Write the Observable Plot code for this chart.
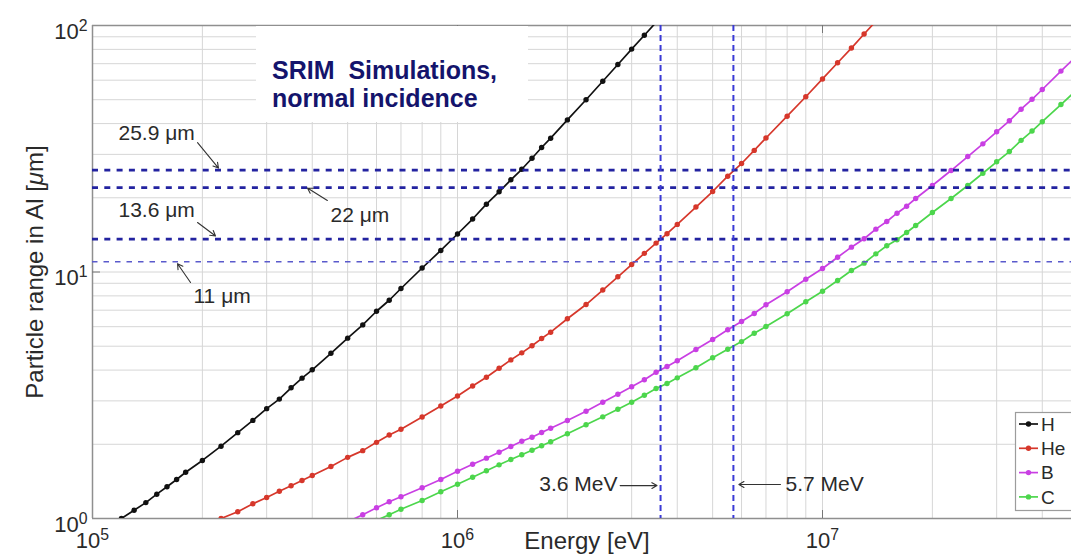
<!DOCTYPE html>
<html>
<head>
<meta charset="utf-8">
<script src="https://cdn.jsdelivr.net/npm/d3@7"></script>
<script src="https://cdn.jsdelivr.net/npm/@observablehq/plot@0.6"></script>
<style>
  html, body { margin: 0; padding: 0; background: #fff; overflow: hidden; }
  #chart { width: 1071px; height: 554px; }
</style>
</head>
<body>
<div id="chart"></div>
<script>
// SRIM projected ranges of light ions in aluminium (energy in keV, range in µm)
const ions = ["H", "He", "B", "C"];
const ionColors = ["#111111", "#d6372b", "#c93fe3", "#4cd64c"];

const energyH = [120,130,140,150,160,170,180,200,225,250,275,300,325,350,375,400,450,500,550,600,650,700,800,900,1000,1100,1200,1300,1400,1500,1600,1700,1800,2000,2250,2500,2750,3000,3250,3500];
const rangeH  = [1.00,1.08,1.16,1.255,1.345,1.44,1.54,1.72,1.965,2.23,2.50,2.79,3.05,3.39,3.71,4.01,4.68,5.39,6.10,6.93,7.68,8.57,10.38,12.23,14.26,16.4,18.84,21.15,23.66,26.1,28.95,32.0,34.9,41.4,50.0,59.4,69.5,80.2,91.3,103];

const energyHe = [225,250,275,300,325,350,375,400,450,500,550,600,650,700,800,900,1000,1100,1200,1300,1400,1500,1600,1700,1800,2000,2250,2500,2750,3000,3250,3500,3750,4000,4500,5000,5500,6000,6500,7000,8000,9000,10000,11000,12000,13000,14000];
const rangeHe  = [1.00,1.065,1.147,1.217,1.29,1.357,1.426,1.494,1.625,1.77,1.885,2.037,2.18,2.303,2.58,2.86,3.14,3.45,3.74,4.07,4.40,4.70,5.02,5.37,5.70,6.46,7.38,8.45,9.56,10.72,11.9,13.1,14.3,15.6,18.34,21.21,24.47,27.55,31.14,34.97,42.86,51.4,60.7,70.6,81.0,92.4,104];

const energyB = [500,550,600,650,700,800,900,1000,1100,1200,1300,1400,1500,1600,1700,1800,2000,2250,2500,2750,3000,3250,3500,3750,4000,4500,5000,5500,6000,6500,7000,8000,9000,10000,11000,12000,13000,14000,15000,16000,17000,18000,20000,22500,25000,27500,30000,32500,35000,37500,40000,45000,50000];
const rangeB  = [0.97,1.035,1.105,1.169,1.225,1.332,1.439,1.555,1.661,1.757,1.858,1.96,2.058,2.137,2.234,2.325,2.498,2.725,2.964,3.194,3.422,3.654,3.922,4.137,4.363,4.85,5.32,5.83,6.30,6.79,7.36,8.31,9.35,10.33,11.48,12.61,13.64,14.92,16.03,17.32,18.49,19.87,22.44,25.8,29.4,33.1,37.06,41.06,45.76,50.2,55.0,65.3,76.0];

const energyC = [600,650,700,800,900,1000,1100,1200,1300,1400,1500,1600,1700,1800,2000,2250,2500,2750,3000,3250,3500,3750,4000,4500,5000,5500,6000,6500,7000,8000,9000,10000,11000,12000,13000,14000,15000,16000,17000,18000,20000,22500,25000,27500,30000,32500,35000,37500,40000,45000,50000];
const rangeC  = [0.983,1.035,1.091,1.183,1.283,1.378,1.471,1.562,1.651,1.735,1.813,1.893,1.972,2.047,2.207,2.399,2.585,2.776,2.964,3.164,3.368,3.53,3.72,4.087,4.487,4.863,5.22,5.64,6.01,6.77,7.57,8.36,9.24,10.14,10.86,11.85,12.78,13.51,14.46,15.44,17.43,19.87,22.44,25.16,27.99,30.8,34.2,37.3,40.7,47.8,55.2];

// reference thicknesses (µm) and energies (MeV) marked with dashed lines
const rangeLinesMajor = [25.9, 22, 13.6];
const rangeLinesMinor = [11];
const energyLinesMeV = [3.6, 5.7];

// axis tick labels
const xTickValues = [1e5, 1e6, 1e7];
const yTickValues = [1, 10, 100];

// ---------------------------------------------------------------------------
const series = [
  ["H", energyH, rangeH],
  ["He", energyHe, rangeHe],
  ["B", energyB, rangeB],
  ["C", energyC, rangeC]
];
const rows = series.flatMap(([ion, es, rs]) =>
  es.map((e, i) => ({ion, energy: e * 1e3, range: rs[i]})));

const xDomain = [1e5, 4.81e7];
const yDomain = [1, 100];

// log grid: 1..9 within each decade
const xGrid = [1e5, 1e6, 1e7].flatMap(d => d3.range(1, 10).map(k => d * k)).filter(v => v <= xDomain[1]);
const yGrid = [1, 10].flatMap(d => d3.range(1, 10).map(k => d * k)).concat([100]);

// inward tick length expressed along each log axis
const frameH = 554 - 25 - 36, frameW = 1071 - 92;
const yTickFactor = Math.pow(yDomain[1] / yDomain[0], 8 / frameH);
const xTickFactor = Math.pow(xDomain[1] / xDomain[0], 8 / frameW);

// annotation callouts (label placement and arrow, in axis units)
const callouts = [
  {label: "25.9 μm", anchor: "start", tx: 1.178e5, ty: 36.6, ax1: 1.94e5, ay1: 33.5, ax2: 2.214e5, ay2: 26.4},
  {label: "22 μm",   anchor: "start", tx: 4.49e5,  ty: 16.95, ax1: 4.40e5, ay1: 19.5, ax2: 3.88e5, ay2: 21.9},
  {label: "13.6 μm", anchor: "start", tx: 1.178e5, ty: 17.77, ax1: 1.94e5, ay1: 15.88, ax2: 2.173e5, ay2: 14.0},
  {label: "11 μm",   anchor: "start", tx: 1.891e5, ty: 7.99, ax1: 1.856e5, ay1: 9.07, ax2: 1.71e5, ay2: 10.8},
  {label: "3.6 MeV", anchor: "end",   tx: 2.744e6, ty: 1.374, ax1: 2.79e6, ay1: 1.36, ax2: 3.52e6, ay2: 1.36},
  {label: "5.7 MeV", anchor: "start", tx: 7.92e6,  ty: 1.374, ax1: 7.67e6, ay1: 1.374, ax2: 5.9e6, ay2: 1.374}
];

const font = "'Liberation Sans', Arial, Helvetica, sans-serif";
const textColor = "#2a2a2a";
const frameColor = "#8f8f8f";

const plot = Plot.plot({
  width: 1071,
  height: 554,
  marginLeft: 92,
  marginRight: 0,
  marginTop: 25,
  marginBottom: 36,
  style: {fontFamily: font, background: "white", overflow: "hidden"},
  x: {type: "log", domain: xDomain},
  y: {type: "log", domain: yDomain},
  color: {domain: ions, range: ionColors},
  marks: [
    Plot.gridX(xGrid, {stroke: "#d6d6d6", strokeOpacity: 1, strokeWidth: 1}),
    Plot.gridY(yGrid, {stroke: "#d6d6d6", strokeOpacity: 1, strokeWidth: 1}),

    // frame (top, left, bottom)
    Plot.ruleY([yDomain[1]], {stroke: frameColor, strokeWidth: 1.5}),
    Plot.ruleY([yDomain[0]], {stroke: frameColor, strokeWidth: 1.5}),
    Plot.ruleX([xDomain[0]], {stroke: frameColor, strokeWidth: 1.5}),

    // inward major ticks
    Plot.ruleX(xTickValues.slice(1), {y1: yDomain[0], y2: yDomain[0] * yTickFactor, stroke: "#777"}),
    Plot.ruleX(xTickValues.slice(1), {y1: yDomain[1], y2: yDomain[1] / yTickFactor, stroke: "#777"}),
    Plot.ruleY(yTickValues.slice(1, 2), {x1: xDomain[0], x2: xDomain[0] * xTickFactor, stroke: "#777"}),

    // range curves
    Plot.line(rows, {x: "energy", y: "range", z: "ion", stroke: "ion", strokeWidth: 1.7, clip: true}),
    Plot.dot(rows, {x: "energy", y: "range", fill: "ion", r: 2.7, clip: true}),

    // reference lines
    Plot.ruleY(rangeLinesMajor, {stroke: "#2323a0", strokeWidth: 2.6, strokeDasharray: "6,6.3"}),
    Plot.ruleY(rangeLinesMinor, {stroke: "#5a5acc", strokeWidth: 1.5, strokeDasharray: "5.5,6"}),
    Plot.ruleX(energyLinesMeV.map(e => e * 1e6), {stroke: "#3a3ad6", strokeWidth: 2, strokeDasharray: "6,4"}),

    // callouts
    Plot.arrow(callouts, {x1: "ax1", y1: "ay1", x2: "ax2", y2: "ay2", stroke: "#333", strokeWidth: 1.1, headLength: 8}),
    Plot.text(callouts, {filter: d => d.anchor === "start", x: "tx", y: "ty", text: "label", textAnchor: "start",
      fontSize: 21, fill: textColor, ariaLabel: "callout"}),
    Plot.text(callouts, {filter: d => d.anchor === "end", x: "tx", y: "ty", text: "label", textAnchor: "end",
      fontSize: 21, fill: textColor, ariaLabel: "callout"}),

    // axes
    Plot.axisX(xTickValues, {tickSize: 0, tickPadding: 14, fontSize: 22, fill: textColor, label: null,
      tickFormat: d => `10^${Math.round(Math.log10(d))}`}),
    Plot.axisY(yTickValues, {tickSize: 0, tickPadding: 5, fontSize: 22, fill: textColor, label: null, dy: 6,
      tickFormat: d => `10^${Math.round(Math.log10(d))}`})
  ]
});

document.getElementById("chart").appendChild(plot);
const svg = d3.select(plot);

// power-of-ten tick labels with superscript exponents
svg.selectAll('g[aria-label="x-axis tick label"] text, g[aria-label="y-axis tick label"] text').each(function () {
  const [base, exp] = this.textContent.split("^");
  const t = d3.select(this).text(null);
  t.append("tspan").text(base);
  t.append("tspan").attr("dy", "-0.5em").attr("font-size", "0.72em").text(exp);
});

// italic µ in callouts
svg.selectAll('g[aria-label="callout"] text').each(function () {
  const s = this.textContent;
  const i = s.indexOf("μ");
  if (i < 0) return;
  const t = d3.select(this).text(null);
  t.append("tspan").text(s.slice(0, i));
  t.append("tspan").attr("font-style", "italic").text("μ");
  t.append("tspan").text(s.slice(i + 1));
});

// axis titles
svg.append("text")
  .attr("x", 587).attr("y", 549)
  .attr("text-anchor", "middle")
  .attr("font-family", font).attr("font-size", 24).attr("fill", textColor)
  .text("Energy [eV]");

const yTitle = svg.append("text")
  .attr("transform", "translate(43,272) rotate(-90)")
  .attr("text-anchor", "middle")
  .attr("font-family", font).attr("font-size", 24).attr("fill", textColor);
yTitle.append("tspan").text("Particle range in Al [");
yTitle.append("tspan").attr("font-style", "italic").text("μ");
yTitle.append("tspan").text("m]");

// title panel
svg.append("rect").attr("x", 256).attr("y", 26).attr("width", 272).attr("height", 96).attr("fill", "white");
const title = svg.append("text")
  .attr("text-anchor", "start")
  .attr("font-family", font).attr("font-size", 25).attr("font-weight", "bold").attr("fill", "#14146c");
title.append("tspan").attr("x", 272).attr("y", 79).text("SRIM\u00a0 Simulations,");
title.append("tspan").attr("x", 272).attr("y", 107).text("normal incidence");

// legend
const color = plot.scale("color");
const legend = svg.append("g").attr("transform", "translate(1015,412)");
legend.append("rect").attr("x", 0.5).attr("y", 0.5).attr("width", 70).attr("height", 98)
  .attr("fill", "white").attr("stroke", "#9c9c9c").attr("stroke-width", 1.2);
ions.forEach((ion, i) => {
  const g = legend.append("g").attr("transform", `translate(0,${12 + i * 24.3})`);
  const c = color.apply(ion);
  g.append("line").attr("x1", 4).attr("x2", 23).attr("y1", 0).attr("y2", 0).attr("stroke", c).attr("stroke-width", 1.7);
  g.append("circle").attr("cx", 13.5).attr("cy", 0).attr("r", 2.7).attr("fill", c);
  g.append("text").attr("x", 26).attr("y", 0).attr("dy", "0.35em").attr("text-anchor", "start")
    .attr("font-family", font).attr("font-size", 19).attr("fill", textColor).text(ion);
});
</script>
</body>
</html>
